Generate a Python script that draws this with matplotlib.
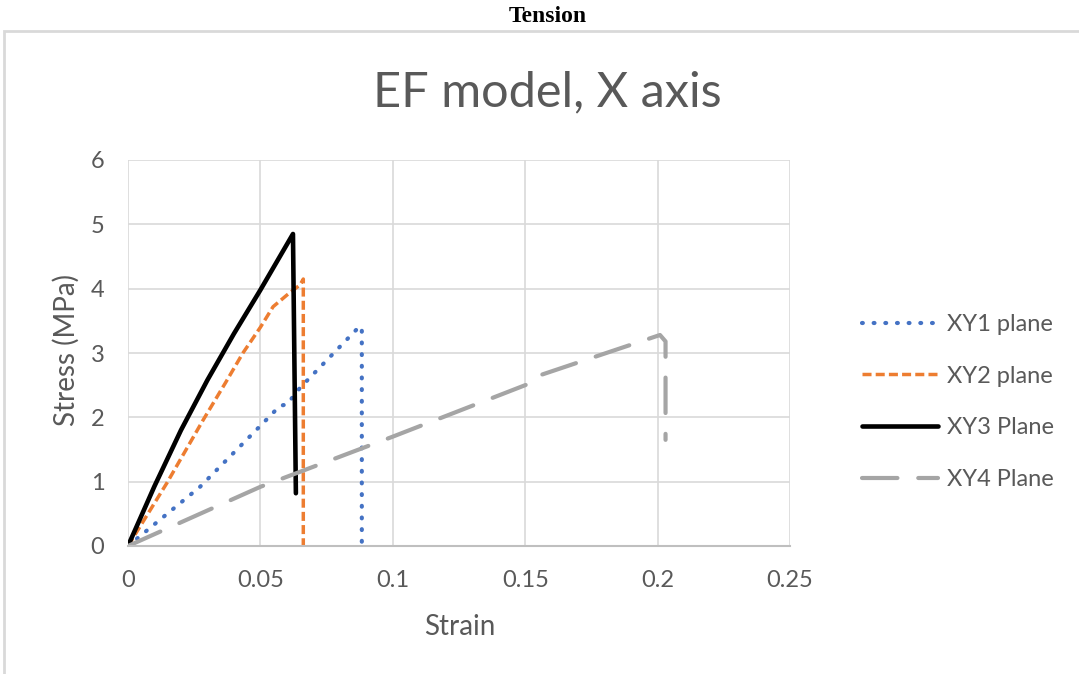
import matplotlib
matplotlib.use("Agg")
import matplotlib.pyplot as plt
from matplotlib.patches import Rectangle

# ---- data ----
xy1_strain = [0.0, 0.0272, 0.051, 0.0574, 0.060, 0.065, 0.0876, 0.0883, 0.0883]
xy1_stress = [0.0, 0.92, 1.91, 2.18, 2.20, 2.46, 3.42, 3.35, 0.0]

xy2_strain = [0.0, 0.0147, 0.0284, 0.0370, 0.0434, 0.0500, 0.0548, 0.060, 0.065, 0.0662, 0.0662]
xy2_stress = [0.0, 0.98, 1.96, 2.55, 3.00, 3.40, 3.72, 3.90, 4.06, 4.15, 0.0]

xy3_strain = [0.0, 0.010, 0.020, 0.030, 0.040, 0.050, 0.0623, 0.0634]
xy3_stress = [0.0, 0.93, 1.80, 2.58, 3.30, 3.98, 4.85, 0.82]

xy4_strain = [0.0, 0.05, 0.10, 0.155, 0.156, 0.2009, 0.2030, 0.2030]
xy4_stress = [0.0, 0.92, 1.70, 2.58, 2.66, 3.28, 3.18, 1.65]

series_labels = ["XY1 plane", "XY2 plane", "XY3 Plane", "XY4 Plane"]
x_ticks = [0, 0.05, 0.1, 0.15, 0.2, 0.25]
x_tick_labels = ["0", "0.05", "0.1", "0.15", "0.2", "0.25"]
y_ticks = [0, 1, 2, 3, 4, 5, 6]

plt.rcParams['font.family'] = ['Lato', 'DejaVu Sans']

W, H = 1079, 674
fig = plt.figure(figsize=(W / 100, H / 100), dpi=100)
fig.patch.set_facecolor("white")

# outer chart frame
fig.patches.append(Rectangle((4 / W, -0.05), 1.2, 1 - 31 / H + 0.05,
                             transform=fig.transFigure, fill=False,
                             edgecolor="#d9d9d9", linewidth=2.0))

fig.text(548 / W, 1 - 17 / H, "Tension", ha="center", va="center",
         family=["Liberation Serif", "DejaVu Serif"], weight="bold",
         fontsize=17, color="black")

ax = fig.add_axes([128 / W, 1 - 546 / H, (790 - 128) / W, (546 - 160) / H])

ax.plot(xy1_strain, xy1_stress, color="#4472c4", linestyle=(0, (0.2, 2.6)),
        linewidth=3.0, dash_capstyle="round", label=series_labels[0])
ax.plot(xy2_strain, xy2_stress, color="#ed7d31", linestyle=(0, (2.6, 1.2)),
        linewidth=2.5, label=series_labels[1])
ax.plot(xy3_strain, xy3_stress, color="black", linestyle="-",
        linewidth=3.3, solid_capstyle="round", solid_joinstyle="round",
        label=series_labels[2])
ax.plot(xy4_strain, xy4_stress, color="#a5a5a5", linestyle=(0, (8.5, 5.0)),
        linewidth=3.0, dash_capstyle="round", label=series_labels[3])

ax.set_xlim(0, 0.25)
ax.set_ylim(0, 6)
ax.set_xticks(x_ticks)
ax.set_xticklabels(x_tick_labels)
ax.set_yticks(y_ticks)
ax.grid(True, color="#d9d9d9", linewidth=1.2)
ax.set_axisbelow(True)
for s in ["top", "right", "left"]:
    ax.spines[s].set_visible(False)
ax.spines["bottom"].set_color("#bfbfbf")
ax.spines["bottom"].set_linewidth(1.5)
ax.tick_params(length=0, labelsize=17, labelcolor="#595959")
ax.tick_params(axis="x", pad=17)
ax.tick_params(axis="y", pad=17)

ax.set_xlabel("Strain", fontsize=20, color="#595959", va="center", ha="center")
ax.xaxis.set_label_coords((460 - 128) / 662, (546 - 627) / 386)
ax.set_ylabel("Stress (MPa)", fontsize=20, color="#595959", va="center", ha="center")
ax.yaxis.set_label_coords((66 - 128) / 662, (546 - 350) / 386)

fig.text(547 / W, 1 - 92 / H, "EF model, X axis", ha="center",
         va="center", fontsize=35, color="#595959")

leg = ax.legend(loc="upper left", bbox_to_anchor=((862 - 128) / 662, (546 - 314) / 386),
                frameon=False, fontsize=17, labelcolor="#595959",
                handlelength=3.2, handletextpad=0.42, labelspacing=1.3,
                borderpad=0, borderaxespad=0)

fig.savefig("out.png", dpi=100, facecolor="white")
